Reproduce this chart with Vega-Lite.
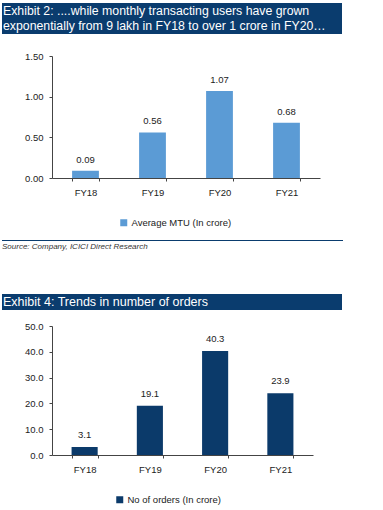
{
  "$schema": "https://vega.github.io/schema/vega-lite/v6.json",
  "background": "white",
  "padding": {"left": 2, "top": 3, "right": 0, "bottom": 0},
  "spacing": 0,
  "resolve": {"scale": {"color": "independent"}, "legend": {"color": "independent"}},
  "config": {
    "view": {"stroke": null},
    "font": "Liberation Sans",
    "axis": {
      "labelFont": "Liberation Sans",
      "labelFontSize": 9.5,
      "labelColor": "#222222",
      "domainColor": "#444444",
      "tickColor": "#444444",
      "tickSize": 3,
      "grid": false,
      "title": null
    },
    "legend": {
      "labelFont": "Liberation Sans",
      "labelFontSize": 9.5,
      "labelColor": "#222222",
      "labelOffset": 3,
      "symbolType": "square",
      "symbolSize": 49,
      "symbolStrokeWidth": 0,
      "orient": "none",
      "title": null
    }
  },
  "vconcat": [
    {
      "width": 340,
      "height": 31,
      "view": {"fill": "#0a3c6e", "stroke": null},
      "data": {"values": [
        {"line": 1, "text": "Exhibit 2: ....while monthly transacting users have grown"},
        {"line": 2, "text": "exponentially from 9 lakh in FY18 to over 1 crore in FY20…"}
      ]},
      "mark": {"type": "text", "align": "left", "baseline": "middle", "color": "white", "font": "Liberation Sans", "fontSize": 12.3, "dx": 1},
      "encoding": {
        "x": {"datum": 0, "type": "quantitative", "scale": {"domain": [0, 1]}, "axis": null},
        "y": {"field": "line", "type": "ordinal", "axis": null, "scale": {"type": "band", "paddingInner": 0, "paddingOuter": 0}},
        "text": {"field": "text"}
      }
    },
    {"width": 1, "height": 17, "data": {"values": []}, "mark": "point"},
    {
      "width": 318,
      "height": 122,
      "data": {"values": [
        {"year": "FY18", "value": 0.09, "series": "Average MTU (In crore)"},
        {"year": "FY19", "value": 0.56, "series": "Average MTU (In crore)"},
        {"year": "FY20", "value": 1.07, "series": "Average MTU (In crore)"},
        {"year": "FY21", "value": 0.68, "series": "Average MTU (In crore)"}
      ]},
      "encoding": {
        "x": {"field": "year", "type": "nominal", "sort": null,
              "scale": {"paddingInner": 0.6, "paddingOuter": 0.3, "range": [50, 318]},
              "axis": {"labelAngle": 0, "tickBand": "extent", "labelPadding": 6}},
        "y": {"field": "value", "type": "quantitative",
              "scale": {"domain": [0, 1.5]},
              "axis": {"values": [0, 0.5, 1, 1.5], "format": ".2f", "labelPadding": 6, "offset": -50}}
      },
      "layer": [
        {"mark": {"type": "bar"},
         "encoding": {"color": {"field": "series", "type": "nominal", "scale": {"range": ["#5b9bd5"]}, "legend": {"legendX": 117, "legendY": 162}}}},
        {"mark": {"type": "text", "baseline": "alphabetic", "dy": -8, "fontSize": 9.5, "color": "#222222"},
         "encoding": {"text": {"field": "value", "type": "quantitative", "format": ".2f"}}}
      ]
    },
    {"width": 1, "height": 6, "data": {"values": []}, "mark": "point"},
    {
      "width": 341,
      "height": 1,
      "view": {"fill": "#0a3c6e", "stroke": null},
      "title": {"text": "Source: Company, ICICI Direct Research", "orient": "bottom", "anchor": "start", "font": "Liberation Sans", "fontSize": 8, "fontStyle": "italic", "fontWeight": "normal", "color": "#333333", "offset": -3},
      "data": {"values": [{"t": ""}]},
      "mark": {"type": "text"},
      "encoding": {"text": {"field": "t"}}
    },
    {"width": 1, "height": 43, "data": {"values": []}, "mark": "point"},
    {
      "width": 340,
      "height": 16,
      "view": {"fill": "#0a3c6e", "stroke": null},
      "data": {"values": [
        {"line": 1, "text": "Exhibit 4: Trends in number of orders"}
      ]},
      "mark": {"type": "text", "align": "left", "baseline": "middle", "color": "white", "font": "Liberation Sans", "fontSize": 12.5, "dx": 1},
      "encoding": {
        "x": {"datum": 0, "type": "quantitative", "scale": {"domain": [0, 1]}, "axis": null},
        "y": {"field": "line", "type": "ordinal", "axis": null, "scale": {"type": "band", "paddingInner": 0, "paddingOuter": 0}},
        "text": {"field": "text"}
      }
    },
    {"width": 1, "height": 10.5, "data": {"values": []}, "mark": "point"},
    {
      "width": 311,
      "height": 129,
      "data": {"values": [
        {"year": "FY18", "value": 3.1, "series": "No of orders (In crore)"},
        {"year": "FY19", "value": 19.1, "series": "No of orders (In crore)"},
        {"year": "FY20", "value": 40.3, "series": "No of orders (In crore)"},
        {"year": "FY21", "value": 23.9, "series": "No of orders (In crore)"}
      ]},
      "encoding": {
        "x": {"field": "year", "type": "nominal", "sort": null,
              "scale": {"paddingInner": 0.6, "paddingOuter": 0.3, "range": [50, 311]},
              "axis": {"labelAngle": 0, "tickBand": "extent", "labelPadding": 6}},
        "y": {"field": "value", "type": "quantitative",
              "scale": {"domain": [0, 50]},
              "axis": {"values": [0, 10, 20, 30, 40, 50], "format": ".1f", "labelPadding": 6, "offset": -50}}
      },
      "layer": [
        {"mark": {"type": "bar"},
         "encoding": {"color": {"field": "series", "type": "nominal", "scale": {"range": ["#0b3a6a"]}, "legend": {"legendX": 113, "legendY": 169}}}},
        {"mark": {"type": "text", "baseline": "alphabetic", "dy": -9, "fontSize": 9.5, "color": "#222222"},
         "encoding": {"text": {"field": "value", "type": "quantitative", "format": ".1f"}}}
      ]
    },
    {
      "width": 381,
      "height": 1,
      "view": {"fill": "#d9d9d9", "stroke": null},
      "data": {"values": [{"t": ""}]},
      "mark": {"type": "text"},
      "encoding": {"text": {"field": "t"}}
    }
  ]
}
